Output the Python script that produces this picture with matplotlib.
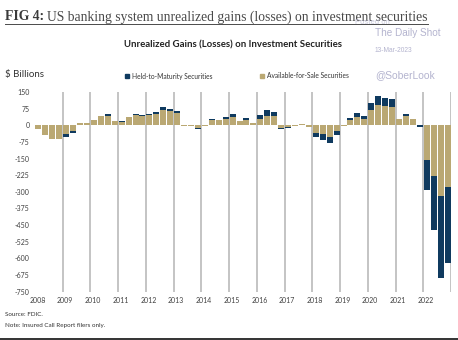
import numpy as np
import matplotlib
matplotlib.use('Agg')
import matplotlib.pyplot as plt
from matplotlib.lines import Line2D

plt.rcParams['font.family'] = ['Lato', 'DejaVu Sans']

# ==================== data (quarterly, $ billions) ====================
years = list(range(2008, 2023))

afs = [-17, -42, -63, -60,
       -40, -25, 12, 9,
       22, 40, 41, 19,
       17, 36, 47, 44,
       45, 52, 70, 64,
       57, -4, -4, -10,
       -3, 22, 22, 28,
       36, 20, 22, 10,
       27, 44, 40, -12,
       -9, -2, 4, -6,
       -34, -40, -52, -25,
       -3, 22, 38, 28,
       67, 90, 86, 82,
       28, 42, 28, 0,
       -155, -230, -320, -280]

htm = [0, 0, 0, -4,
       -12, -9, 0, 0,
       0, 0, 8, 2,
       1, 0, 2, 1,
       7, 8, 11, 11,
       7, -1, -1, -8,
       0, 8, 0, 9,
       14, 0, 10, 0,
       19, 23, 18, -5,
       -3, 0, 1, -2,
       -21, -27, -30, -20,
       0, 12, 16, 15,
       35, 40, 37, 36,
       0, 10, 0, -8,
       -138, -240, -370, -340]

yticks = [150, 75, 0, -75, -150, -225, -300, -375, -450, -525, -600, -675, -750]

TAN = '#BAA873'
NAVY = '#0F3A5F'
WM = '#B4B4CF'

afs = np.array(afs, dtype=float)
htm = np.array(htm, dtype=float)
x = np.arange(len(afs))

fig = plt.figure(figsize=(4.58, 3.40), dpi=100)
W, H = 458, 340

ax = fig.add_axes([35 / W, 1 - 291.7 / H, (451 - 35) / W, (291.7 - 92) / H])

# year separators
for k in range(1, len(years) + 1):
    ax.axvline(4 * k - 0.5, color='#C4C4C4', linewidth=1.4, zorder=0)

htm_bottom = np.where(np.sign(htm) == np.sign(afs), afs, 0)
ax.bar(x, afs, width=0.86, color=TAN, linewidth=0, zorder=2)
ax.bar(x, htm, bottom=htm_bottom, width=0.86, color=NAVY, linewidth=0, zorder=2)

ax.set_xlim(-0.5, len(afs) - 0.5)
ax.set_ylim(-750, 150)
ax.set_yticks(yticks)
ax.set_yticklabels([str(v) for v in yticks], fontsize=5, color='#404040')
ax.set_xticks([4 * i - 0.15 for i in range(len(years))])
ax.set_xticklabels([str(y) for y in years], fontsize=5, color='#404040')
ax.tick_params(length=0, pad=4)
for s in ax.spines.values():
    s.set_visible(False)

# ==================== texts ====================
t1 = fig.text(5 / W, 1 - 17 / H, 'FIG 4:', family='Liberation Serif', fontweight='bold',
              fontsize=9.8, color='#3A3A3A', va='center', ha='left')
fig.canvas.draw()
r = fig.canvas.get_renderer()
bb1 = t1.get_window_extent(r)
t2 = fig.text(bb1.x1 / W + 3 / W, 1 - 17 / H,
              'US banking system unrealized gains (losses) on investment securities',
              family='Liberation Serif', fontsize=9.8, color='#4A4A4A', va='center', ha='left')
fig.canvas.draw()
bb2 = t2.get_window_extent(r)
fig.add_artist(Line2D([bb1.x0 / W, bb2.x1 / W], [1 - 24 / H, 1 - 24 / H],
                      transform=fig.transFigure, color='#4A4A4A', linewidth=0.7))

fig.text(233 / W, 1 - 45 / H, 'Unrealized Gains (Losses) on Investment Securities',
         fontsize=6.9, fontweight='bold', color='#222222', ha='center', va='center')

fig.text(5 / W, 1 - 75 / H, '$ Billions', fontsize=7, color='#333333', ha='left', va='center')

# legend
fig.add_artist(plt.Rectangle((125 / W, 1 - 78 / H), 4 / W, 4 / H, color=NAVY,
                             transform=fig.transFigure))
fig.text(132 / W, 1 - 76 / H, 'Held-to-Maturity Securities', fontsize=4.8,
         color='#333333', ha='left', va='center')
fig.add_artist(plt.Rectangle((260 / W, 1 - 78 / H), 4 / W, 4 / H, color=TAN,
                             transform=fig.transFigure))
fig.text(267 / W, 1 - 76 / H, 'Available-for-Sale Securities', fontsize=4.8,
         color='#333333', ha='left', va='center')

# watermark
fig.text(355 / W, 1 - 22 / H, 'Posted on', fontsize=5.5, color=WM, ha='left', va='center',
         family='Liberation Sans', alpha=0.7)
fig.text(375 / W, 1 - 33 / H, 'The Daily Shot', fontsize=7.2, color=WM, ha='left', va='center',
         family='Liberation Sans')
fig.text(375 / W, 1 - 50 / H, '13-Mar-2023', fontsize=4.8, color=WM, ha='left', va='center',
         family='Liberation Sans')
fig.text(375 / W, 1 - 75 / H, '@SoberLook', fontsize=7.4, color=WM, ha='left', va='center',
         family='Liberation Sans')

fig.text(5 / W, 1 - 315 / H, 'Source: FDIC.', fontsize=4.5, color='#333333', ha='left', va='center')
fig.text(5 / W, 1 - 326 / H, 'Note: Insured Call Report filers only.', fontsize=4.5,
         color='#333333', ha='left', va='center')

fig.add_artist(Line2D([0, 1], [1 - 339 / H, 1 - 339 / H], transform=fig.transFigure,
                      color='#111111', linewidth=1.2))

plt.savefig('out.png', dpi=100)
